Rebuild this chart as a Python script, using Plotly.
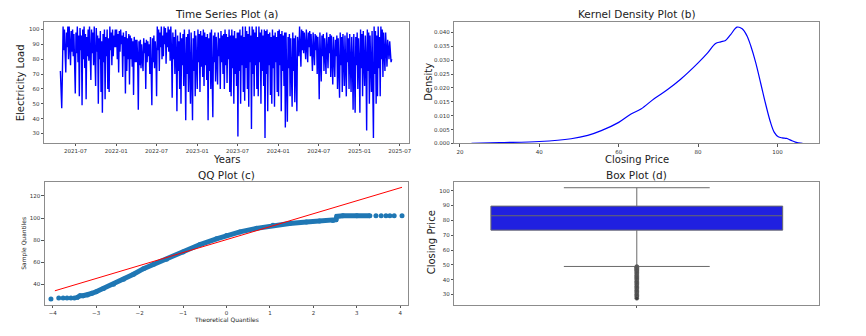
import pandas as pd
import plotly.graph_objs as go

fontFamily = 'DejaVu Sans'
frameColor = '#8c8c8c'
tickColor = '#333333'
figWidth, figHeight = 858, 328   # page body keeps an 8px margin
pageOffset = 8

# electricity load, roughly one value every 3 days
load = [72, 49,
        47, 70, 102, 86, 100, 84, 71, 98, 88, 102,
        80, 102, 90, 76, 99, 85, 100, 82, 97, 78,
        57, 98, 84, 102, 78, 96, 55, 101, 86, 96,
        49, 100, 80, 102, 74, 97, 53, 95, 82, 100,
        79, 102, 88, 66, 100, 84, 98, 76, 102, 81,
        62, 101, 85, 96, 50, 94, 80, 99, 58, 92,
        44, 97, 78, 100, 53, 95, 82, 100, 60, 94,
        58, 102, 86, 98, 76, 100, 82, 96, 88, 100,
        88, 100, 80, 97, 71, 99, 85, 100, 90, 96,
        68, 98, 82, 95, 57, 99, 72, 94, 80, 97,
        63, 96, 80, 94, 75, 92, 56, 95, 78, 93,
        78, 93, 82, 46, 92, 76, 93, 74, 90, 80,
        72, 94, 84, 91, 60, 93, 78, 92, 82, 90,
        70, 95, 80, 49, 94, 78, 96, 74, 92, 84,
        55, 102, 86, 100, 72, 98, 88, 102, 80, 96,
        82, 102, 90, 101, 77, 98, 88, 102, 85, 100,
        79, 102, 86, 54, 98, 80, 95, 70, 100, 84,
        45, 96, 72, 92, 60, 98, 50, 94, 76, 97,
        62, 100, 78, 39, 95, 70, 97, 58, 100, 74,
        50, 98, 76, 39, 94, 72, 99, 55, 96, 80,
        60, 100, 78, 97, 58, 99, 75, 96, 68, 100,
        62, 98, 76, 95, 66, 97, 39, 94, 72, 98,
        60, 100, 74, 41, 96, 78, 98, 65, 95, 80,
        63, 98, 82, 94, 60, 99, 78, 96, 70, 97,
        60, 100, 76, 97, 64, 95, 80, 100, 58, 96,
        55, 100, 74, 96, 50, 99, 70, 94, 62, 98,
        28, 98, 72, 100, 50, 96, 76, 102, 58, 95,
        52, 102, 74, 99, 60, 97, 48, 102, 78, 96,
        33, 102, 70, 100, 55, 98, 76, 102, 60, 95,
        55, 102, 78, 98, 50, 100, 72, 96, 62, 100,
        27, 99, 70, 100, 45, 97, 76, 98, 56, 95,
        50, 100, 74, 96, 48, 98, 78, 95, 58, 99,
        55, 100, 76, 97, 45, 99, 72, 96, 62, 98,
        34, 98, 70, 38, 95, 74, 97, 55, 94, 76,
        48, 98, 72, 94, 51, 96, 70, 45, 95, 82,
        82, 102, 88, 75, 100, 86, 99, 84, 98, 90,
        80, 100, 86, 78, 98, 88, 99, 82, 97, 88,
        72, 98, 84, 76, 97, 86, 96, 70, 95, 82,
        53, 98, 80, 65, 96, 82, 97, 72, 94, 84,
        70, 98, 82, 74, 95, 84, 97, 68, 96, 80,
        63, 95, 78, 68, 93, 82, 96, 60, 94, 80,
        54, 98, 76, 95, 58, 97, 80, 62, 96, 78,
        55, 98, 78, 94, 60, 97, 74, 58, 95, 80,
        46, 97, 72, 44, 95, 76, 98, 60, 94, 78,
        44, 100, 74, 97, 55, 99, 78, 62, 96, 80,
        32, 100, 72, 98, 50, 96, 76, 58, 99, 74,
        27, 102, 70, 99, 50, 96, 55, 102, 74, 95,
        55, 102, 80, 100, 68, 98, 84, 72, 98, 82,
        75, 93, 84, 80, 92, 86, 78, 80]
loadDates = pd.date_range('2021-04-24', '2025-05-26', periods=len(load))
yearTicks = ['2021-07-01', '2022-01-01', '2022-07-01', '2023-01-01', '2023-07-01',
             '2024-01-01', '2024-07-01', '2025-01-01', '2025-07-01']

# kernel density curve (b)
kdePrice = [22.9, 30, 40, 48, 52.2, 55.6, 60, 63.1, 65.6, 69, 72.4, 75.6, 80, 82.4, 84.4, 85.7,
            86.9, 88.2, 89.8, 91.1, 92.3, 93.3, 94.5, 95.8, 97.0, 98.2, 99.2, 100.2, 101.2, 102.3,
            103.3, 104.5, 106.3]
kdeDensity = [0.0, 0.0003, 0.0007, 0.0017, 0.0029, 0.0046, 0.0076, 0.0106, 0.0124, 0.0162, 0.0195,
              0.0231, 0.029, 0.0326, 0.036, 0.0366, 0.0371, 0.0392, 0.0419, 0.0413, 0.0388, 0.035,
              0.0292, 0.0215, 0.0143, 0.0078, 0.004, 0.0024, 0.002, 0.0018, 0.0012, 0.0005, 0.0]

# qq plot (c)
qqTheoretical = [-4.04, -3.86, -3.76, -3.67, -3.58, -3.5, -3.44, -3.37, -3.3, -3.2, -3.1, -3.0, -2.83,
                 -2.6, -2.37, -2.14, -1.91, -1.68, -1.38, -1.0, -0.61, -0.23, 0.0, 0.31, 0.69, 1.07,
                 1.45, 1.84, 2.14, 2.45, 2.52, 2.54, 2.68, 3.0, 3.3, 3.44, 3.56, 3.67, 3.76, 3.86, 4.04]
qqSample = [26.9, 27.8, 27.8, 27.8, 27.8, 27.8, 28.2, 29.9, 29.9, 30.5, 32.0, 33.4, 36.4,
            40.3, 44.8, 49.3, 54.3, 58.2, 62.7, 69.3, 76.1, 81.2, 84.2, 87.5, 90.7, 93.4,
            95.0, 96.4, 97.3, 97.9, 98.5, 101.5, 102.1, 102.1, 102.1, 102.1, 102.1, 102.1, 102.1, 102.1, 102.1]
qqLineX = [-3.95, 4.04]
qqLineY = [34.3, 127.8]

# box plot (d)
boxQ1, boxMedian, boxQ3 = 73.4, 83.1, 89.6
boxLow, boxHigh = 48.9, 102.0
boxOutliers = [48.8, 48.4, 48.0, 47.5, 47.0, 46.4, 45.8, 45.1, 44.5, 43.8, 43.0, 42.2, 41.5, 40.7,
               39.9, 39.0, 38.2, 37.3, 36.5, 35.6, 34.7, 33.8, 32.9, 32.0, 31.1, 30.2, 29.3, 28.4, 27.4]


def px(x):
    return (x - pageOffset) / figWidth


def py(y):
    return 1 - (y - pageOffset) / figHeight


def axisStyle(**kw):
    base = dict(showline=True, mirror=True, linecolor=frameColor, linewidth=1, showgrid=False,
                zeroline=False, ticks='outside', ticklen=2.5, tickwidth=0.8, tickcolor='#555555',
                tickfont=dict(size=5.5, color=tickColor, family=fontFamily))
    base.update(kw)
    return base


fig = go.Figure()

fig.add_trace(go.Scatter(x=loadDates, y=load, mode='lines', line=dict(color='blue', width=1.4),
                         xaxis='x', yaxis='y'))
fig.add_trace(go.Scatter(x=kdePrice, y=kdeDensity, mode='lines', line=dict(color='blue', width=1.2, shape='spline'),
                         xaxis='x2', yaxis='y2'))

bodyStart, bodyEnd = 6, 35
fig.add_trace(go.Scatter(x=qqTheoretical[bodyStart:bodyEnd], y=qqSample[bodyStart:bodyEnd], mode='lines',
                         line=dict(color='#1f77b4', width=5), xaxis='x3', yaxis='y3'))
fig.add_trace(go.Scatter(x=qqTheoretical, y=qqSample, mode='markers',
                         marker=dict(color='#1f77b4', size=5), xaxis='x3', yaxis='y3'))
fig.add_trace(go.Scatter(x=qqLineX, y=qqLineY, mode='lines', line=dict(color='red', width=1),
                         xaxis='x3', yaxis='y3'))

fig.add_trace(go.Box(x=[0], q1=[boxQ1], median=[boxMedian], q3=[boxQ3], lowerfence=[boxLow],
                     upperfence=[boxHigh], width=0.8, whiskerwidth=0.5, boxpoints=False,
                     fillcolor='#2020e0', line=dict(color='#6a6a6a', width=1), xaxis='x4', yaxis='y4'))
fig.add_trace(go.Scatter(x=[0] * len(boxOutliers), y=boxOutliers, mode='markers',
                         marker=dict(color='#3d3d3d', size=4, line=dict(color='#6a6a6a', width=0.6)),
                         xaxis='x4', yaxis='y4'))

fig.update_layout(
    width=figWidth, height=figHeight, margin=dict(t=0, b=0, l=0, r=0), showlegend=False,
    paper_bgcolor='white', plot_bgcolor='white', font=dict(family=fontFamily, color='#222222'),
    xaxis=axisStyle(domain=[px(44.3), px(410)], anchor='y', type='date', range=['2021-02-10', '2025-08-10'],
                    tickvals=yearTicks, tickformat='%Y-%m'),
    yaxis=axisStyle(domain=[py(144), py(22)], anchor='x', range=[23.8, 105.1], tickvals=list(range(30, 101, 10))),
    xaxis2=axisStyle(domain=[px(456), px(822)], anchor='y2', range=[18.6, 110.5], tickvals=[20, 40, 60, 80, 100]),
    yaxis2=axisStyle(domain=[py(144.7), py(21.7)], anchor='x2', range=[0, 0.0439],
                     tickvals=[0, 0.005, 0.01, 0.015, 0.02, 0.025, 0.03, 0.035, 0.04], tickformat='.3f'),
    xaxis3=axisStyle(domain=[px(45), px(409.5)], anchor='y3', range=[-4.18, 4.18], tickvals=list(range(-4, 5))),
    yaxis3=axisStyle(domain=[py(307.7), py(183.7)], anchor='x3', range=[21.5, 132.5], tickvals=[40, 60, 80, 100, 120]),
    xaxis4=axisStyle(domain=[px(456), px(822)], anchor='y4', range=[-0.5, 0.5], tickvals=[0], ticktext=['']),
    yaxis4=axisStyle(domain=[py(307.3), py(184)], anchor='x4', range=[23.2, 105.6], tickvals=list(range(30, 101, 10))),
)


def label(text, x, y, size, angle=0):
    fig.add_annotation(text=text, x=px(x), y=py(y), xref='paper', yref='paper', showarrow=False,
                       xanchor='center', yanchor='middle', textangle=angle,
                       font=dict(size=size, family=fontFamily, color='#222222'))


label('Time Series Plot (a)', 227, 14, 10.5)
label('Kernel Density Plot (b)', 639, 14, 10.5)
label('QQ Plot (c)', 227, 177, 10.5)
label('Box Plot (d)', 639, 177, 10.5)
label('Years', 227, 161, 10)
label('Closing Price', 639, 161, 10)
label('Theoretical Quantiles', 227, 322, 6)
label('Electricity Load', 20, 83, 10, -90)
label('Density', 430, 83, 10, -90)
label('Sample Quantiles', 24, 245, 6, -90)
label('Closing Price', 433, 245, 10, -90)

fig.write_html('out.html')
